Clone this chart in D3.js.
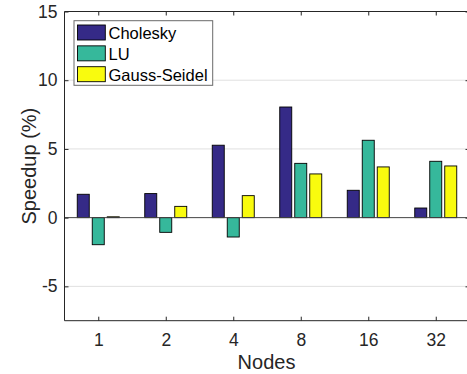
<!DOCTYPE html>
<html>
<head>
<meta charset="utf-8">
<script src="https://cdn.jsdelivr.net/npm/d3@7"></script>
<style>
  html, body { margin: 0; background: #fff; overflow: hidden; }
  svg { display: block; }
  svg text { font-family: "Liberation Sans", Arial, Helvetica, sans-serif; }
</style>
</head>
<body>
<div id="chart"></div>
<script>
const nodes = ["1", "2", "4", "8", "16", "32"]
const seriesNames = ["Cholesky", "LU", "Gauss-Seidel"]
const cholesky = [1.70, 1.75, 5.27, 8.05, 1.99, 0.70]
const lu = [-1.97, -1.07, -1.41, 3.95, 5.63, 4.10]
const gaussSeidel = [0.06, 0.82, 1.60, 3.18, 3.69, 3.76]
const yTicks = [-5, 0, 5, 10, 15]
const colors = ["#352a87", "#36b89b", "#f9fb0e"]

const series = [cholesky, lu, gaussSeidel]

const width = 467
const height = 374
const ink = "#262626"

const svg = d3.select("#chart")
    .append("svg")
    .attr("width", width)
    .attr("height", height)

// MATLAB-like axes: categories 1..6, xlim [0.5 6.5]; the right edge falls just outside the picture
const x = d3.scaleLinear().domain([0.5, 6.5]).range([64.5, 469.5])
const y = d3.scaleLinear().domain([-7.5, 15]).range([320.7, 11.5])

const axLeft = x.range()[0], axRight = x.range()[1]
const axTop = y.range()[1], axBottom = y.range()[0]

// grid
svg.append("g")
    .selectAll("line")
    .data(yTicks.filter(d => d !== 0 && d !== 15))
    .join("line")
    .attr("x1", axLeft)
    .attr("x2", axRight)
    .attr("y1", d => y(d))
    .attr("y2", d => y(d))
    .attr("stroke", "#e0e0e0")
    .attr("stroke-width", 1)

// bars
const slot = 2 / 9
const barWidth = 0.8 * slot
const barLayer = svg.append("g")
series.forEach((values, s) => {
  barLayer.append("g")
      .selectAll("rect")
      .data(values)
      .join("rect")
      .attr("x", (d, i) => x(i + 1 + (s - 1) * slot - barWidth / 2))
      .attr("width", x(barWidth) - x(0))
      .attr("y", d => y(Math.max(d, 0)))
      .attr("height", d => Math.abs(y(d) - y(0)))
      .attr("fill", colors[s])
      .attr("stroke", "#000")
      .attr("stroke-width", 0.9)
})

// baseline
svg.append("line")
    .attr("x1", axLeft)
    .attr("x2", axRight)
    .attr("y1", y(0))
    .attr("y2", y(0))
    .attr("stroke", "#444")
    .attr("stroke-width", 1)

// axes
const tickLen = 4
const xAxis = svg.append("g")
    .attr("transform", `translate(0,${axBottom})`)
    .call(d3.axisBottom(x)
        .tickValues(d3.range(1, nodes.length + 1))
        .tickFormat((d, i) => nodes[i])
        .tickSize(-tickLen)
        .tickSizeOuter(0)
        .tickPadding(12.7))

const xAxisTop = svg.append("g")
    .attr("transform", `translate(0,${axTop})`)
    .call(d3.axisTop(x)
        .tickValues(d3.range(1, nodes.length + 1))
        .tickFormat("")
        .tickSize(-tickLen)
        .tickSizeOuter(0))

const yAxis = svg.append("g")
    .attr("transform", `translate(${axLeft},0)`)
    .call(d3.axisLeft(y)
        .tickValues(yTicks)
        .tickFormat(d => String(d))
        .tickSize(-tickLen)
        .tickSizeOuter(0)
        .tickPadding(7))

const yAxisRight = svg.append("g")
    .attr("transform", `translate(${axRight},0)`)
    .call(d3.axisRight(y)
        .tickValues(yTicks)
        .tickFormat("")
        .tickSize(-tickLen)
        .tickSizeOuter(0))

;[xAxis, xAxisTop, yAxis, yAxisRight].forEach(g => {
  g.select(".domain").remove()
  g.selectAll(".tick line").attr("stroke", ink)
  g.selectAll("text")
      .attr("fill", ink)
      .style("font-size", "17.5px")
})

// box: left, top and bottom edges (right edge lies off-canvas)
svg.append("path")
    .attr("d", `M${axRight},${axTop}H${axLeft}V${axBottom}H${axRight}`)
    .attr("fill", "none")
    .attr("stroke", ink)
    .attr("stroke-width", 1)

// labels
svg.append("text")
    .attr("x", 266.5)
    .attr("y", 369)
    .attr("text-anchor", "middle")
    .attr("fill", ink)
    .style("font-size", "20px")
    .text("Nodes")

svg.append("text")
    .attr("transform", `translate(36,${(axTop + axBottom) / 2}) rotate(-90)`)
    .attr("text-anchor", "middle")
    .attr("fill", ink)
    .style("font-size", "20px")
    .text("Speedup (%)")

// legend
const legend = svg.append("g")
legend.append("rect")
    .attr("x", 74)
    .attr("y", 20.7)
    .attr("width", 138.7)
    .attr("height", 64.6)
    .attr("fill", "#fff")
    .attr("stroke", "#6a6a6a")
    .attr("stroke-width", 1)

const rows = legend.selectAll("g.row")
    .data(seriesNames)
    .join("g")
    .attr("class", "row")
    .attr("transform", (d, i) => `translate(0,${25 + i * 20.85})`)

rows.append("rect")
    .attr("x", 77.5)
    .attr("y", 0)
    .attr("width", 27.8)
    .attr("height", 15)
    .attr("fill", (d, i) => colors[i])
    .attr("stroke", "#000")
    .attr("stroke-width", 0.9)

rows.append("text")
    .attr("x", 108.5)
    .attr("y", 14.3)
    .attr("fill", "#000")
    .style("font-size", "16.5px")
    .text(d => d)
</script>
</body>
</html>
